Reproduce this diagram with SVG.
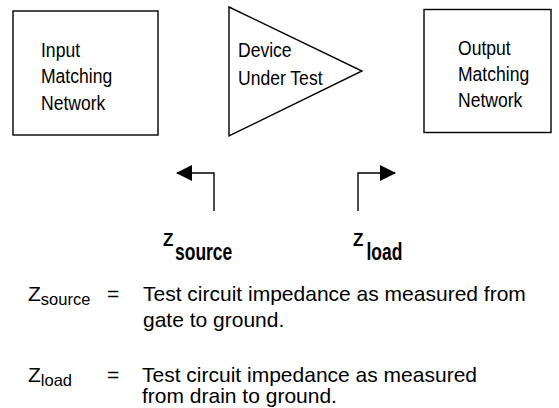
<svg xmlns="http://www.w3.org/2000/svg" width="559" height="408" viewBox="0 0 559 408">
<style>
.shape{fill:none;stroke:#000;stroke-width:1.4}
.lbl{font-family:"Liberation Sans",Arial,sans-serif;font-size:19.5px;fill:#000}
.zb{font-family:"Liberation Sans",Arial,sans-serif;font-weight:bold;fill:#000}
.txt{font-family:"Liberation Sans",Arial,sans-serif;font-size:21px;fill:#000}
.sub{font-size:16.5px}
.conn{fill:none;stroke:#000;stroke-width:1.4}
</style>
<defs>
<marker id="ah" viewBox="0 0 16 16" refX="15" refY="8" markerWidth="16" markerHeight="16" markerUnits="userSpaceOnUse" orient="auto">
<path d="M0,0 L16,8 L0,16 Z" fill="#000"/>
</marker>
</defs>
<rect width="559" height="408" fill="#fff"/>
<g id="input-network">
<rect class="shape" x="13" y="11" width="145" height="124"/>
<g transform="translate(41,0) scale(0.9,1)">
<text class="lbl" x="0" y="57">Input</text>
<text class="lbl" x="0" y="83.5">Matching</text>
<text class="lbl" x="0" y="110">Network</text>
</g>
</g>
<g id="dut">
<polygon class="shape" points="229,7 362,71 229,136"/>
<g transform="translate(238,0) scale(0.9,1)">
<text class="lbl" x="0" y="57">Device</text>
<text class="lbl" x="0" y="85">Under Test</text>
</g>
</g>
<g id="output-network">
<rect class="shape" x="424" y="9.5" width="127" height="123"/>
<g transform="translate(458,0) scale(0.9,1)">
<text class="lbl" x="0" y="55">Output</text>
<text class="lbl" x="0" y="81">Matching</text>
<text class="lbl" x="0" y="107">Network</text>
</g>
</g>
<g id="connectors">
<polyline class="conn" points="214,211 214,173 177,173" marker-end="url(#ah)"/>
<polyline class="conn" points="358,211 358,173 395,173" marker-end="url(#ah)"/>
</g>
<g id="zsource-label">
<text class="zb" font-size="18" transform="translate(163,246) scale(0.95,1)">Z</text>
<text class="zb" font-size="23" transform="translate(175,260) scale(0.76,1)">source</text>
</g>
<g id="zload-label">
<text class="zb" font-size="18" transform="translate(353,246) scale(0.95,1)">Z</text>
<text class="zb" font-size="23" transform="translate(366.5,260) scale(0.76,1)">load</text>
</g>
<g id="legend">
<text class="txt" x="28" y="300.5">Z<tspan class="sub" dy="4.5">source</tspan></text>
<text class="txt" x="107" y="300.5">=</text>
<text class="txt" x="143" y="300.5">Test circuit impedance as measured from</text>
<text class="txt" x="143" y="327">gate to ground.</text>
<text class="txt" x="28" y="381.5">Z<tspan class="sub" dy="4.5">load</tspan></text>
<text class="txt" x="107" y="381.5">=</text>
<text class="txt" x="142" y="381.5">Test circuit impedance as measured</text>
<text class="txt" x="142" y="403">from drain to ground.</text>
</g>
</svg>
